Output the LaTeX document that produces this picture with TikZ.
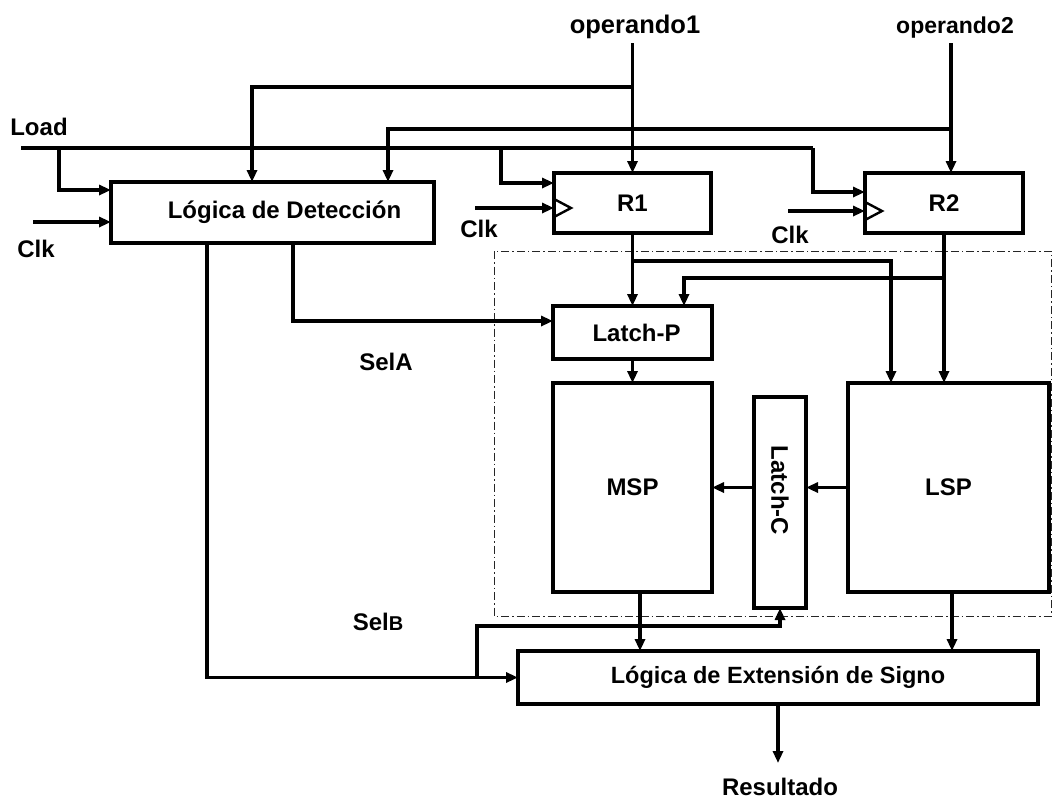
\documentclass[tikz,border=0pt]{standalone}
\usepackage{fontspec}
\usepackage{graphicx}
\setmainfont{Liberation Sans}
\usetikzlibrary{arrows.meta}
\begin{document}
\begin{tikzpicture}[x=1pt,y=-1pt,
  wire/.style={line width=3.2pt},
  arr/.style={wire,-{Triangle[length=12pt,width=10pt]}},
  blk/.style={draw,line width=3.2pt,inner sep=0pt,outer sep=0pt,font=\fontsize{24}{28}\selectfont\bfseries},
  lbl/.style={inner sep=0pt,font=\fontsize{24}{28}\selectfont\bfseries},
  frame/.style={line width=1pt,black!85,dash pattern=on 8pt off 3pt on 1.5pt off 3pt}
  ]
\useasboundingbox (0,0) rectangle (1054,798);

% dashed frame
\draw[frame] (494,251) rectangle (1051,616);

% blocks
\node[blk,minimum width=323pt,minimum height=61pt] (ld) at (272.5,212.5) {\hspace*{24pt}Lógica de Detección};
\node[blk,minimum width=157pt,minimum height=60pt] (r1) at (632.5,203) {R1};
\node[blk,minimum width=158pt,minimum height=60pt] (r2) at (944,203) {R2};
\node[blk,minimum width=159pt,minimum height=53pt] (latchP) at (632.5,332.5) {\hspace*{8pt}Latch-P};
\node[blk,minimum width=159pt,minimum height=209pt] (msp) at (632.5,487.5) {MSP};
\node[blk,minimum width=52pt,minimum height=211pt] (latchC) at (780,502.5) {\rotatebox{-90}{Latch-C\hspace*{24pt}}};
\node[blk,minimum width=201pt,minimum height=209pt] (lsp) at (948.5,487.5) {LSP};
\node[blk,minimum width=520pt,minimum height=53pt,font=\fontsize{23.5}{28}\selectfont\bfseries] (ext) at (778,677.5) {Lógica de Extensión de Signo};

% labels
\node[lbl,anchor=base,font=\fontsize{25.5}{30}\selectfont\bfseries] (op1) at (635,33) {operando1};
\node[lbl,anchor=base,font=\fontsize{23}{28}\selectfont\bfseries] (op2) at (955,33) {operando2};
\node[lbl,anchor=base] (load) at (39,135) {Load};
\node[lbl,anchor=base] (clk0) at (36,257) {Clk};
\node[lbl,anchor=base] (clk1) at (479,237) {Clk};
\node[lbl,anchor=base] (clk2) at (790,243) {Clk};
\node[lbl,anchor=base] (selA) at (386,370) {SelA};
\node[lbl,anchor=base] (selB) at (378,630) {Sel{\fontsize{20}{24}\selectfont B}};
\node[lbl,anchor=base] (resul) at (780,795) {Resultado};

% operand inputs
\coordinate (o1top) at (632.5,43);
\coordinate (o2top) at (951,43);
\draw[arr] (o1top) -- (o1top |- r1.north);
\draw[arr] (o2top) -- (o2top |- r2.north);
\coordinate (j1) at (632.5,87);
\coordinate (t1) at (252,87);
\draw[arr] (j1) -- (t1) -- (t1 |- ld.north);
\coordinate (j2) at (951,129);
\coordinate (t2) at (388,129);
\draw[arr] (j2) -- (t2) -- (t2 |- ld.north);

% Load
\coordinate (L0) at (21,148);
\coordinate (L1) at (59,148);
\coordinate (L2) at (501,148);
\coordinate (L3) at (813,148);
\coordinate (L1b) at (59,190);
\coordinate (L2b) at (501,183);
\coordinate (L3b) at (813,192);
\draw[wire] (L0) -- (L3);
\draw[arr] (L1) -- (L1b) -- (L1b -| ld.west);
\draw[arr] (L2) -- (L2b) -- (L2b -| r1.west);
\draw[arr] (L3) -- (L3b) -- (L3b -| r2.west);

% clocks
\coordinate (c0) at (33,222);
\coordinate (c1) at (475,208);
\coordinate (c2) at (788,211);
\draw[arr] (c0) -- (c0 -| ld.west);
\draw[arr] (c1) -- (c1 -| r1.west);
\draw[arr] (c2) -- (c2 -| r2.west);
\draw[line width=2.4pt] (554,199) -- (571,208) -- (554,217);
\draw[line width=2.4pt] (865,202) -- (882,211) -- (865,220);

% register outputs
\draw[arr] (r1.south) -- (latchP.north);
\coordinate (k1) at (632.5,261);
\coordinate (k1r) at (891,261);
\draw[arr] (k1) -- (k1r) -- (k1r |- lsp.north);
\draw[arr] (r2.south) -- (r2.south |- lsp.north);
\coordinate (k2) at (944,278);
\coordinate (k2l) at (684,278);
\draw[arr] (k2) -- (k2l) -- (k2l |- latchP.north);

% SelA
\coordinate (sa) at (293,321);
\draw[arr] (sa |- ld.south) -- (sa) -- (sa -| latchP.west);

% internal
\draw[arr] (latchP.south) -- (msp.north);
\draw[arr] (lsp.west) -- (latchC.east |- lsp.west);
\draw[arr] (latchC.west |- lsp.west) -- (msp.east |- lsp.west);

% to extension logic
\coordinate (mx) at (640,0);
\coordinate (lx) at (952,0);
\draw[arr] (msp.south -| mx) -- (ext.north -| mx);
\draw[arr] (lsp.south -| lx) -- (ext.north -| lx);

% SelB
\coordinate (sb) at (207,677.5);
\draw[arr] (sb |- ld.south) -- (sb) -- (sb -| ext.west);
\coordinate (sb1) at (477,677.5);
\coordinate (sb2) at (477,626);
\draw[arr] (sb1) -- (sb2) -| (latchC.south);

% result
\coordinate (re) at (778,763);
\draw[arr] (ext.south) -- (re);
\end{tikzpicture}
\end{document}
